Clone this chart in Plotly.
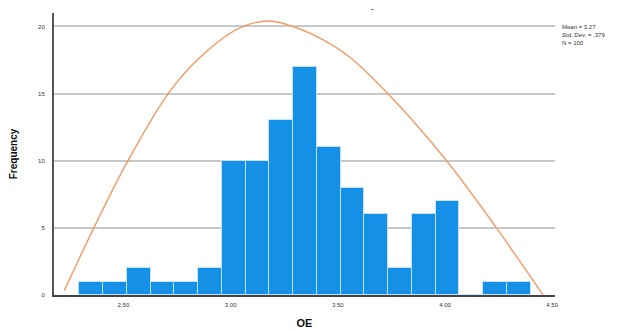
import plotly.graph_objects as go

# Histogram data
bin_start = 2.294
bin_size = 0.1108
counts = [1, 1, 2, 1, 1, 2, 10, 10, 13, 17, 11, 8, 6, 2, 6, 7, 0, 1, 1]

# Fitted curve, points
curve_x = [2.223, 2.362, 2.521, 2.709, 2.857, 3.043, 3.183, 3.307, 3.432, 3.556, 3.733, 4.007, 4.240, 4.457]
curve_y = [0.3, 5.0, 10.0, 15.0, 17.7, 19.9, 20.4, 19.9, 19.0, 17.7, 15.0, 10.0, 5.0, 0.0]

tick_vals = [2.5, 3.0, 3.5, 4.0, 4.5]
tick_text = ["2.50", "3.00", "3.50", "4.00", "4.50"]
stats_text = ["Mean = 3.27", "Std. Dev. = .379", "N = 100"]

centers = [bin_start + bin_size * (i + 0.5) for i in range(len(counts))]

fig = go.Figure()
fig.add_trace(go.Bar(
    x=centers, y=counts, width=[bin_size] * len(counts),
    marker=dict(color="#1490e6", line=dict(color="rgba(200,230,255,0.9)", width=1)),
    showlegend=False,
))
fig.add_trace(go.Scatter(
    x=curve_x, y=curve_y, mode="lines", line=dict(color="#f09a66", width=1.4, shape="spline", smoothing=1.0),
    showlegend=False,
))

W, H, L, R, T, B = 627, 329, 54, 72, 13, 34
fig.update_layout(
    width=W, height=H,
    margin=dict(l=L, r=R, t=T, b=B),
    paper_bgcolor="white", plot_bgcolor="white",
    font=dict(family="Liberation Sans, Arial, sans-serif", color="#222"),
    bargap=0,
)
fig.update_xaxes(
    range=[2.176, 4.513], tickvals=tick_vals, ticktext=tick_text,
    tickfont=dict(size=6, color="#333"), showgrid=False, zeroline=False,
    showline=True, linecolor="#444", linewidth=1.5, ticks="", ticklabelstandoff=3,
    automargin=False,
    title=dict(text="<b>OE</b>", font=dict(size=11, color="#111"), standoff=18),
)
fig.update_yaxes(
    range=[0, 21], tickvals=[0, 5, 10, 15, 20],
    tickfont=dict(size=6, color="#333"), showgrid=True, gridcolor="#c8c8c8", gridwidth=1.5,
    zeroline=False, showline=True, linecolor="#555", linewidth=2, ticks="",
    ticklabelstandoff=6, automargin=False,
    title=dict(text="<b>Frequency</b>", font=dict(size=10, color="#111"), standoff=19),
)

ph = H - T - B
pw = W - L - R
fig.add_annotation(
    x=1.0, y=1 - (22 - T) / ph, xref="paper", yref="paper", xanchor="left", yanchor="top",
    xshift=5, text="<br>".join(stats_text), showarrow=False, align="left",
    font=dict(size=6, color="#333"),
)
fig.add_annotation(
    x=(372 - L) / pw, y=1 + (T - 9) / ph, xref="paper", yref="paper", yanchor="middle",
    text="-", showarrow=False, font=dict(size=9, color="#222"),
)

fig.write_html("out.html")
